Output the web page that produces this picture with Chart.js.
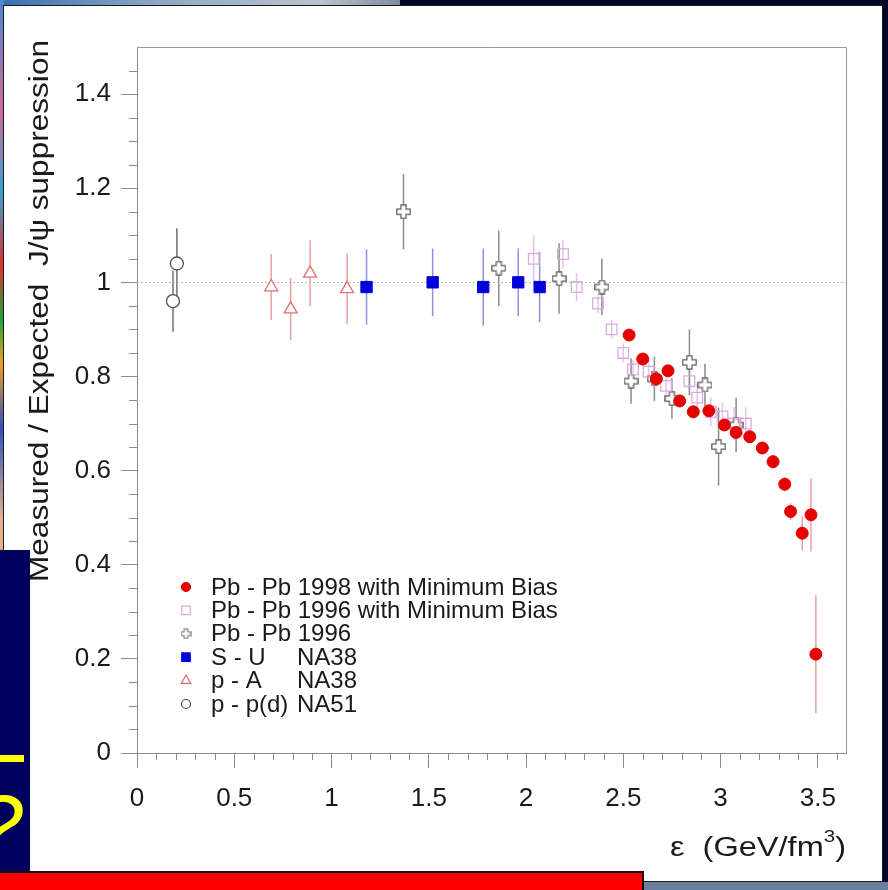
<!DOCTYPE html>
<html>
<head>
<meta charset="utf-8">
<script src="https://cdn.jsdelivr.net/npm/chart.js@4.4.0/dist/chart.umd.min.js"></script>
<style>
  body { margin: 0; width: 888px; height: 890px; background: #04052a; position: relative; overflow: hidden; }
  #topstrip { position: absolute; left: 0; top: 0; width: 400px; height: 6px; background: linear-gradient(90deg, #3a6fb0, #8fa9c4 40%, #b8c4cc 80%, #7d8ea0); }
  #leftstrip { position: absolute; left: 0; top: 0; width: 4px; height: 550px; background: linear-gradient(180deg, #4a8ad0, #d06a9a 20%, #3aa0d0 35%, #e03030 48%, #20a040 58%, #f0a020 66%, #3050c0 78%, #e0b090 94%); }
  #panel { position: absolute; left: 3px; top: 5px; width: 880px; height: 877px; background: #fff; border: 1px solid #1a1a1a; box-sizing: border-box; }
  #floor { position: absolute; left: 600px; top: 882px; width: 288px; height: 8px; background: #6a7ea0; }
  #jpsi { position: absolute; left: 0; top: 0; }
  #note { position: absolute; left: 0; top: 550px; width: 30px; height: 321px; background: #00005e; overflow: hidden; color: #ffff00; font-family: 'Liberation Sans', Arial, sans-serif; font-style: italic; }
  #note .bar { position: absolute; left: 0; top: 205px; width: 24px; height: 7px; background: #ffff00; }
  #note .q { position: absolute; left: -26px; top: 232px; font-size: 88px; line-height: 1; }
  #ribbon { position: absolute; left: 0; top: 871px; width: 644px; height: 19px; background: #ff0000; border-top: 2px solid #111; border-right: 2px solid #111; box-sizing: border-box; }
</style>
</head>
<body>
<div id="topstrip"></div>
<div id="leftstrip"></div>
<div id="panel"></div>
<div id="floor"></div>
<canvas id="jpsi" width="888" height="890"></canvas>
<div id="note"><div class="bar"></div><div class="q">?</div></div>
<div id="ribbon"></div>
<script>
// Pb - Pb 1998 with Minimum Bias
const xPb98 = [2.53, 2.60, 2.67, 2.73, 2.79, 2.86, 2.94, 3.02, 3.08, 3.15, 3.215, 3.27, 3.33, 3.36, 3.42, 3.465, 3.49];
const yPb98 = [0.888, 0.837, 0.795, 0.812, 0.748, 0.725, 0.727, 0.697, 0.681, 0.672, 0.648, 0.619, 0.571, 0.513, 0.467, 0.506, 0.21];
const ePb98 = [0.012, 0.012, 0.012, 0.012, 0.012, 0.012, 0.012, 0.012, 0.012, 0.012, 0.012, 0.014, 0.015, 0.018, 0.036, 0.078, 0.125];

// Pb - Pb 1996 with Minimum Bias
const xPb96mb = [2.04, 2.19, 2.26, 2.37, 2.44, 2.50, 2.55, 2.63, 2.72, 2.84, 2.88, 2.95, 3.01, 3.07, 3.13];
const yPb96mb = [1.05, 1.06, 0.99, 0.955, 0.90, 0.85, 0.815, 0.81, 0.78, 0.79, 0.755, 0.725, 0.715, 0.70, 0.70];
const ePb96mb = [0.05, 0.03, 0.03, 0.02, 0.02, 0.02, 0.02, 0.025, 0.025, 0.03, 0.03, 0.03, 0.03, 0.035, 0.035];

// Pb - Pb 1996
const xPb96 = [1.37, 1.86, 2.17, 2.39, 2.54, 2.66, 2.75, 2.84, 2.92, 2.99, 3.08];
const yPb96 = [1.15, 1.03, 1.008, 0.99, 0.79, 0.795, 0.753, 0.83, 0.782, 0.651, 0.697];
const ePb96 = [0.08, 0.08, 0.075, 0.06, 0.048, 0.047, 0.043, 0.07, 0.045, 0.083, 0.058];

// S - U  NA38
const xSU = [1.18, 1.52, 1.78, 1.96, 2.07];
const ySU = [0.99, 1.0, 0.99, 1.0, 0.99];
const eSU = [0.08, 0.072, 0.082, 0.072, 0.075];

// p - A  NA38
const xPA = [0.69, 0.79, 0.89, 1.08];
const yPA = [0.99, 0.943, 1.019, 0.986];
const ePA = [0.07, 0.066, 0.07, 0.075];

// p - p(d)  NA51
const xPP = [0.185, 0.205];
const yPP = [0.96, 1.04];
const ePP = [0.065, 0.075];

const legendLabels = [
  ['Pb - Pb 1998 with Minimum Bias', ''],
  ['Pb - Pb 1996 with Minimum Bias', ''],
  ['Pb - Pb 1996', ''],
  ['S - U', 'NA38'],
  ['p - A', 'NA38'],
  ['p - p(d)', 'NA51']
];
const xTicks = [0, 0.5, 1, 1.5, 2, 2.5, 3, 3.5];
const yTicks = [0, 0.2, 0.4, 0.6, 0.8, 1, 1.2, 1.4];

const FONT = "'Liberation Sans', Arial, Helvetica, sans-serif";
Chart.defaults.font.family = FONT;

function pts(xs, ys) {
  return xs.map((x, i) => ({ x: x, y: ys[i] }));
}

// open "plus" marker, white inside
function makeCross(size, color) {
  const c = document.createElement('canvas');
  c.width = size; c.height = size;
  const g = c.getContext('2d');
  const m = size / 2, a = size * 0.17, e = 0.8;
  g.beginPath();
  g.moveTo(m - a, e); g.lineTo(m + a, e); g.lineTo(m + a, m - a); g.lineTo(size - e, m - a);
  g.lineTo(size - e, m + a); g.lineTo(m + a, m + a); g.lineTo(m + a, size - e); g.lineTo(m - a, size - e);
  g.lineTo(m - a, m + a); g.lineTo(e, m + a); g.lineTo(e, m - a); g.lineTo(m - a, m - a);
  g.closePath();
  g.fillStyle = '#fff'; g.fill();
  g.strokeStyle = color; g.lineWidth = 1.2; g.stroke();
  return c;
}
const crossBig = makeCross(15, '#5a5a5a');
const crossSmall = makeCross(11, '#8a8a8a');

const datasets = [
  { label: 'Pb98', data: pts(xPb98, yPb98), errors: ePb98, errorColor: '#eaa0a0',
    pointStyle: 'circle', radius: 6, backgroundColor: '#e60000', borderColor: '#e60000', borderWidth: 1,
    legendStyle: 'circle', legendRadius: 4.5 },
  { label: 'Pb96mb', data: pts(xPb96mb, yPb96mb), errors: ePb96mb, errorColor: '#e8c0e8',
    pointStyle: 'rect', radius: 7.5, backgroundColor: 'rgba(255,255,255,0)', borderColor: '#dcaadc', borderWidth: 1.3,
    legendStyle: 'rect', legendRadius: 6 },
  { label: 'Pb96', data: pts(xPb96, yPb96), errors: ePb96, errorColor: '#8c8c8c',
    pointStyle: crossBig, radius: 7, backgroundColor: '#fff', borderColor: '#5a5a5a', borderWidth: 1,
    legendStyle: crossSmall, legendRadius: 5 },
  { label: 'SU', data: pts(xSU, ySU), errors: eSU, errorColor: '#9090e0',
    pointStyle: 'rect', radius: 8, backgroundColor: '#0000d8', borderColor: '#0000d8', borderWidth: 1,
    legendStyle: 'rect', legendRadius: 6 },
  { label: 'pA', data: pts(xPA, yPA), errors: ePA, errorColor: '#eba0a0',
    pointStyle: 'triangle', radius: 7.5, backgroundColor: '#fff', borderColor: '#e07070', borderWidth: 1.3,
    legendStyle: 'triangle', legendRadius: 5.5 },
  { label: 'pp', data: pts(xPP, yPP), errors: ePP, errorColor: '#707070',
    pointStyle: 'circle', radius: 6.5, backgroundColor: '#fff', borderColor: '#505050', borderWidth: 1.3,
    legendStyle: 'circle', legendRadius: 4.5 }
];

// vertical error bars under the markers
const errorBars = {
  id: 'errorBars',
  beforeDatasetsDraw(chart) {
    const { ctx, scales: { x, y } } = chart;
    ctx.save();
    ctx.lineWidth = 1.5;
    chart.data.datasets.forEach(ds => {
      ctx.strokeStyle = ds.errorColor;
      ds.data.forEach((p, i) => {
        const px = x.getPixelForValue(p.x);
        ctx.beginPath();
        ctx.moveTo(px, y.getPixelForValue(p.y - ds.errors[i]));
        ctx.lineTo(px, y.getPixelForValue(p.y + ds.errors[i]));
        ctx.stroke();
      });
    });
    ctx.restore();
  }
};

// frame, minor ticks, dotted line at 1, axis titles, legend
const decorations = {
  id: 'decorations',
  beforeDatasetsDraw(chart) {
    const { ctx, chartArea: a, scales: { y } } = chart;
    ctx.save();
    ctx.strokeStyle = '#bdbdbd';
    ctx.lineWidth = 1;
    ctx.setLineDash([2, 2]);
    const py = Math.round(y.getPixelForValue(1)) + 0.5;
    ctx.beginPath(); ctx.moveTo(a.left, py); ctx.lineTo(a.right, py); ctx.stroke();
    ctx.restore();
  },
  afterDraw(chart) {
    const { ctx, chartArea: a, scales: { x, y } } = chart;
    ctx.save();
    ctx.strokeStyle = '#9a9a9a';
    ctx.lineWidth = 1;
    ctx.beginPath();
    ctx.moveTo(a.left, a.top + 0.5); ctx.lineTo(a.right + 0.5, a.top + 0.5); ctx.lineTo(a.right + 0.5, a.bottom);
    ctx.stroke();

    ctx.strokeStyle = '#8a8a8a';
    ctx.beginPath();
    for (let k = 1; k * 0.05 < y.max; k++) {
      if (k % 4 === 0) continue;
      const py = Math.round(y.getPixelForValue(k * 0.05)) + 0.5;
      ctx.moveTo(a.left - 8, py); ctx.lineTo(a.left, py);
    }
    for (let k = 1; k * 0.1 < x.max; k++) {
      if (k % 5 === 0) continue;
      const px = Math.round(x.getPixelForValue(k * 0.1)) + 0.5;
      ctx.moveTo(px, a.bottom); ctx.lineTo(px, a.bottom + 7);
    }
    ctx.stroke();

    // y title
    ctx.fillStyle = '#1a1a1a';
    ctx.font = '27px ' + FONT;
    const ytitle = 'Measured / Expected  J/\u03C8 suppression';
    const w = ctx.measureText(ytitle).width;
    ctx.translate(41, 311);
    ctx.rotate(-Math.PI / 2);
    ctx.scale(542 / w, 1);
    ctx.textAlign = 'center';
    ctx.textBaseline = 'middle';
    ctx.fillText(ytitle, 0, 0);
    ctx.setTransform(1, 0, 0, 1, 0, 0);

    // x title, right aligned to the frame, stretched a little
    ctx.textBaseline = 'alphabetic';
    ctx.textAlign = 'left';
    ctx.font = '27px ' + FONT;
    const main = '\u03B5  (GeV/fm', close = ')';
    const wMain = ctx.measureText(main).width, wClose = ctx.measureText(close).width;
    ctx.font = '17px ' + FONT;
    const wSup = ctx.measureText('3').width;
    const total = wMain + wSup + wClose;
    const sx = 176 / total;
    ctx.translate(a.right - 176, 856);
    ctx.scale(sx, 1);
    ctx.font = '27px ' + FONT;
    ctx.fillText(main, 0, 0);
    ctx.font = '17px ' + FONT;
    ctx.fillText('3', wMain, -14);
    ctx.font = '27px ' + FONT;
    ctx.fillText(close, wMain + wSup, 0);
    ctx.setTransform(1, 0, 0, 1, 0, 0);

    // legend
    const lx = 186, ly0 = 587, dy = 23.4;
    ctx.font = '24px ' + FONT;
    ctx.textBaseline = 'middle';
    chart.data.datasets.forEach((ds, i) => {
      const cy = ly0 + i * dy;
      ctx.fillStyle = ds.backgroundColor;
      ctx.strokeStyle = ds.borderColor;
      ctx.lineWidth = 1.2;
      Chart.helpers.drawPoint(ctx, { pointStyle: ds.legendStyle, radius: ds.legendRadius, rotation: 0, borderWidth: 1.2 }, lx, cy);
      ctx.fillStyle = '#1a1a1a';
      ctx.fillText(legendLabels[i][0], 211, cy + 1);
      if (legendLabels[i][1]) ctx.fillText(legendLabels[i][1], 297, cy + 1);
    });
    ctx.restore();
  }
};

function fmt(v) { return String(Number(v.toFixed(2))); }

new Chart(document.getElementById('jpsi'), {
  type: 'scatter',
  data: { datasets: datasets },
  plugins: [errorBars, decorations],
  options: {
    responsive: false,
    animation: false,
    events: [],
    layout: { padding: { top: 47, right: 42, left: 0, bottom: 0 } },
    plugins: { legend: { display: false }, tooltip: { enabled: false } },
    scales: {
      x: {
        type: 'linear', min: 0, max: 3.645,
        afterFit: s => { s.height = 137; },
        afterBuildTicks: s => { s.ticks = xTicks.map(v => ({ value: v })); },
        ticks: { callback: fmt, font: { size: 26 }, color: '#1a1a1a', padding: 15, maxRotation: 0, autoSkip: false },
        grid: { drawOnChartArea: false, tickLength: 15, color: '#8a8a8a' },
        border: { color: '#8a8a8a' }
      },
      y: {
        type: 'linear', min: 0, max: 1.5,
        afterFit: s => { s.width = 137; },
        afterBuildTicks: s => { s.ticks = yTicks.map(v => ({ value: v })); },
        ticks: { callback: fmt, font: { size: 26 }, color: '#1a1a1a', padding: 10, autoSkip: false },
        grid: { drawOnChartArea: false, tickLength: 16, color: '#8a8a8a' },
        border: { color: '#8a8a8a' }
      }
    }
  }
});
</script>
</body>
</html>
